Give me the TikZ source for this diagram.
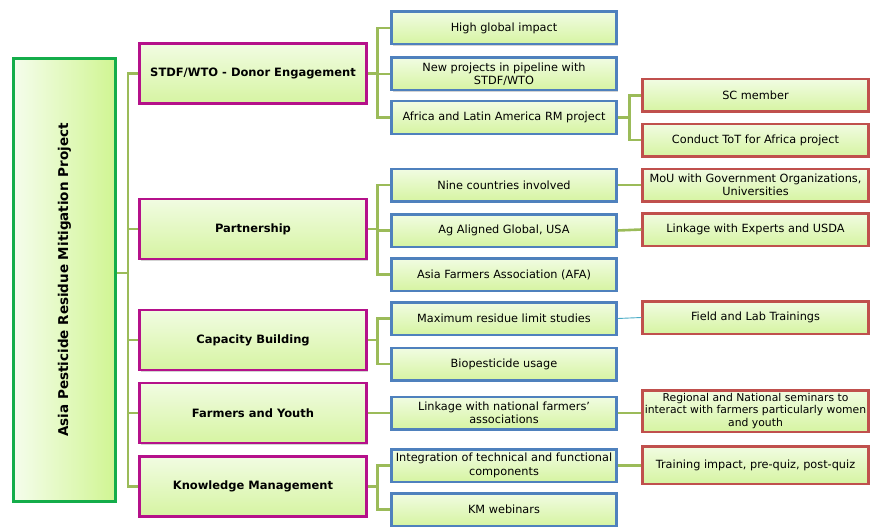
\documentclass[tikz,border=0pt]{standalone}
\usepackage{fontspec}
\setmainfont{DejaVu Sans}
\usetikzlibrary{shadows}
\definecolor{fillT}{HTML}{F1FCE2}
\definecolor{fillB}{HTML}{D6F4A2}
\definecolor{rootL}{HTML}{F5FDEC}
\definecolor{rootR}{HTML}{D0F592}
\definecolor{rootc}{HTML}{14AD4A}
\definecolor{lonec}{HTML}{B5118A}
\definecolor{ltwoc}{HTML}{4F81BD}
\definecolor{lthreec}{HTML}{C0504D}
\definecolor{connc}{HTML}{9BBB59}
\definecolor{thinc}{HTML}{4BACC6}
\begin{document}
\begin{tikzpicture}[x=1pt,y=-1pt,
  shadowed/.style={drop shadow={opacity=0.35,shadow xshift=1.3pt,shadow yshift=-1.6pt}},
  boxbase/.style={rectangle, line width=2.5pt, inner sep=1pt, align=center,
    font=\fontsize{11.3}{13.5}\selectfont, shadowed},
  rootbox/.style={boxbase, draw=rootc, left color=rootL, right color=rootR,
    minimum width=102pt, minimum height=443pt, font=\fontsize{13.5}{15}\selectfont\bfseries},
  lone/.style={boxbase, draw=lonec, top color=fillT, bottom color=fillB,
    minimum width=227pt, minimum height=60pt, font=\fontsize{11.5}{13}\selectfont\bfseries},
  ltwo/.style={boxbase, draw=ltwoc, top color=fillT, bottom color=fillB,
    minimum width=225pt, minimum height=32.5pt},
  lthree/.style={boxbase, draw=lthreec, top color=fillT, bottom color=fillB,
    minimum width=226pt, minimum height=32.5pt},
  conn/.style={draw=connc, line width=2.6pt},
  thinconn/.style={draw=thinc, line width=0.9pt}
]
\useasboundingbox (0,0) rectangle (871,527);

% root
\node[rootbox] (root) at (64.5,280) {\rotatebox{90}{Asia Pesticide Residue Mitigation Project}};

% level 1
\node[lone] (stdf) at (253,73.5) {STDF/WTO - Donor Engagement};
\node[lone] (part) at (253,229) {Partnership};
\node[lone] (cap)  at (253,340) {Capacity Building};
\node[lone] (farm) at (253,413) {Farmers and Youth};
\node[lone] (km)   at (253,486.5) {Knowledge Management};

% level 2
\node[ltwo] (hgi)  at (504,28) {High global impact};
\node[ltwo] (newp) at (504,74) {New projects in pipeline with\\STDF/WTO};
\node[ltwo] (afr)  at (504,117.5) {Africa and Latin America RM project};
\node[ltwo] (nine) at (504,185) {Nine countries involved};
\node[ltwo] (agal) at (504,230.5) {Ag Aligned Global, USA};
\node[ltwo] (afa)  at (504,274.5) {Asia Farmers Association (AFA)};
\node[ltwo] (mrl)  at (504,318.5) {Maximum residue limit studies};
\node[ltwo] (bio)  at (504,364) {Biopesticide usage};
\node[ltwo] (lnf)  at (504,413) {Linkage with national farmers’\\associations};
\node[ltwo] (integ) at (504,465.5) {Integration of technical and functional\\components};
\node[ltwo] (kmw)  at (504,509.5) {KM webinars};

% level 3
\node[lthree] (sc)   at (755.5,95.5) {SC member};
\node[lthree] (tot)  at (755.5,140) {Conduct ToT for Africa project};
\node[lthree] (mou)  at (755.5,185) {MoU with Government Organizations,\\Universities};
\node[lthree] (lexp) at (755.5,229.5) {Linkage with Experts and USDA};
\node[lthree] (field) at (755.5,317.5) {Field and Lab Trainings};
\node[lthree, minimum height=41.5pt, inner sep=0pt, font=\fontsize{10.8}{12.6}\selectfont] (reg) at (755.5,411) {Regional and National seminars to\\interact with farmers particularly women\\and youth};
\node[lthree, minimum height=37.5pt] (trn) at (755.5,465) {Training impact, pre-quiz, post-quiz};

% root connectors
\coordinate (rj) at (128,273);
\draw[conn] (root.east |- rj) -- (rj);
\foreach \n in {stdf,part,cap,farm,km} { \draw[conn] (rj) |- (\n.west); }

% level 1 to level 2
\foreach \c in {hgi,newp,afr} { \draw[conn] (stdf.east) -- ++(10,0) |- (\c.west); }
\foreach \c in {nine,agal,afa} { \draw[conn] (part.east) -- ++(10,0) |- (\c.west); }
\foreach \c in {mrl,bio} { \draw[conn] (cap.east) -- ++(10,0) |- (\c.west); }
\draw[conn] (farm.east) -- (lnf.west);
\foreach \c in {integ,kmw} { \draw[conn] (km.east) -- ++(10,0) |- (\c.west); }

% level 2 to level 3
\foreach \c in {sc,tot} { \draw[conn] (afr.east) -- ++(12,0) |- (\c.west); }
\draw[conn] (nine.east) -- (mou.west);
\draw[conn] (agal.east) -- (lexp.west);
\draw[thinconn] (mrl.east) -- (field.west);
\draw[conn] (lnf.east) -- (reg.west |- lnf.east);
\draw[conn] (integ.east) -- (trn.west |- integ.east);
\end{tikzpicture}
\end{document}
